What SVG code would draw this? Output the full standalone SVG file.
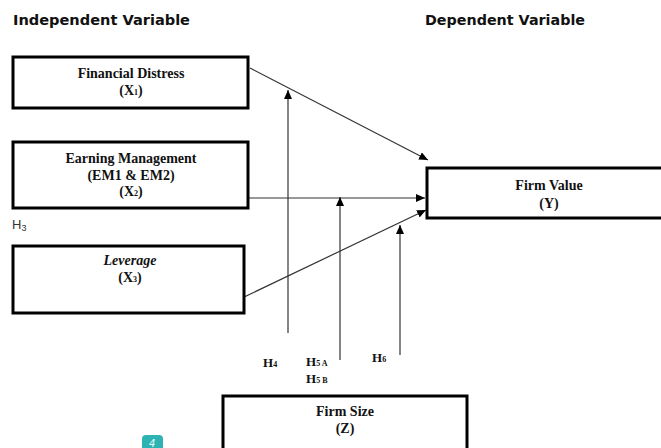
<svg xmlns="http://www.w3.org/2000/svg" width="661" height="448" viewBox="0 0 661 448">
<style>
.hdr{font-family:"DejaVu Sans",Verdana,sans-serif;font-weight:bold;font-size:14px;fill:#111}
.box{fill:#fff;stroke:#000;stroke-width:3}
.t{font-family:"Liberation Serif","Times New Roman",serif;font-weight:bold;font-size:14px;fill:#111;text-anchor:middle}
.h{font-family:"Liberation Serif","Times New Roman",serif;font-weight:bold;font-size:13px;fill:#111}
.s{font-size:8px}
.ln{stroke:#333;stroke-width:1.2;fill:none;marker-end:url(#ah)}
</style>
<defs>
<marker id="ah" markerUnits="userSpaceOnUse" markerWidth="10" markerHeight="10" refX="9" refY="4" orient="auto">
<path d="M0,0 L9,4 L0,8 Z" fill="#000"/>
</marker>
</defs>
<rect width="661" height="448" fill="#fff"/>
<text class="hdr" x="13" y="25" textLength="177" lengthAdjust="spacingAndGlyphs">Independent Variable</text>
<text class="hdr" x="425" y="25" textLength="160" lengthAdjust="spacingAndGlyphs">Dependent Variable</text>
<g id="connectors">
<line class="ln" x1="250" y1="68" x2="428" y2="160"/>
<line class="ln" x1="248" y1="198" x2="425" y2="198"/>
<line class="ln" x1="242" y1="298" x2="426" y2="210"/>
<line class="ln" x1="288" y1="333" x2="288" y2="90"/>
<line class="ln" x1="340" y1="360" x2="340" y2="197"/>
<line class="ln" x1="400" y1="355" x2="400" y2="225"/>
</g>
<g id="x1">
<rect class="box" x="13" y="57" width="235" height="51"/>
<text class="t" x="131" y="78">Financial Distress</text>
<text class="t" x="131" y="95">(X<tspan class="s">1</tspan>)</text>
</g>
<g id="x2">
<rect class="box" x="13" y="142" width="235" height="66"/>
<text class="t" x="131" y="163">Earning Management</text>
<text class="t" x="131" y="180">(EM1 &amp; EM2)</text>
<text class="t" x="131" y="196">(X<tspan class="s">2</tspan>)</text>
</g>
<text x="12" y="229" font-family="'Liberation Sans',Arial,sans-serif" font-size="13" fill="#333">H<tspan font-size="9" dy="2">3</tspan></text>
<g id="x3">
<rect class="box" x="13" y="246" width="231" height="67"/>
<text class="t" x="130" y="265" font-style="italic">Leverage</text>
<text class="t" x="130" y="282">(X<tspan class="s">3</tspan>)</text>
</g>
<g id="y">
<rect class="box" x="427" y="168" width="250" height="50"/>
<text class="t" x="549" y="190">Firm Value</text>
<text class="t" x="549" y="208">(Y)</text>
</g>
<g id="labels">
<text class="h" x="263" y="367">H<tspan class="s">4</tspan></text>
<text class="h" x="306" y="366">H<tspan class="s">5 A</tspan></text>
<text class="h" x="306" y="383">H<tspan class="s">5 B</tspan></text>
<text class="h" x="372" y="362">H<tspan class="s">6</tspan></text>
</g>
<g id="z">
<rect class="box" x="223" y="396" width="244" height="60"/>
<text class="t" x="345" y="416">Firm Size</text>
<text class="t" x="345" y="433">(Z)</text>
</g>
<g id="badge">
<rect x="142" y="435" width="21" height="20" rx="4" fill="#2db3b3"/>
<text x="149" y="447" font-family="'DejaVu Sans',sans-serif" font-size="10" font-style="italic" fill="#e8ffff">4</text>
</g>
</svg>
